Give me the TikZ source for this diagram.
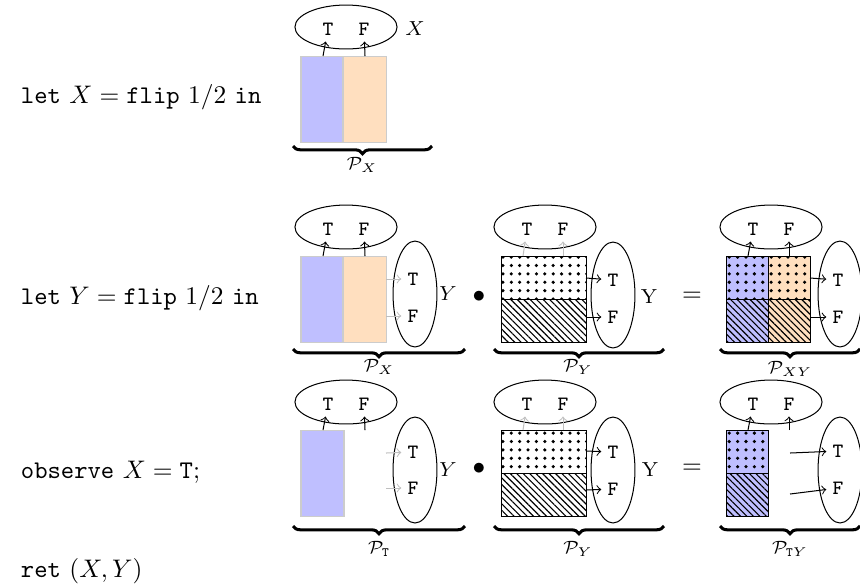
\documentclass[tikz,border=0pt]{standalone}
\usetikzlibrary{shapes.geometric, patterns.meta, decorations.pathreplacing}

\begin{document}
\begin{tikzpicture}[x=0.3937pt, y=-0.3937pt,
    val/.style={font=\ttfamily\footnotesize, inner sep=2.3pt},
    lab/.style={font=\footnotesize},
    plab/.style={font=\scriptsize},
    ovalh/.style={draw, ellipse, minimum width=40.2pt, minimum height=17.3pt, inner sep=0pt},
    ovalv/.style={draw, ellipse, minimum width=17.3pt, minimum height=41.7pt, inner sep=0pt},
    blueblk/.style={fill=blue!25, draw=black!20},
    orangeblk/.style={fill=orange!25, draw=black!20},
    dotfill/.style={pattern={Dots[distance=3.3pt, radius=0.7pt]}},
    hatchfill/.style={pattern={Lines[angle=-45, distance=1.8pt, line width=0.45pt]}},
    faint/.style={->, black!25},
    brc/.style={decorate, decoration={brace, mirror, amplitude=3pt}, very thick}]
    \useasboundingbox (0,0) rectangle (860,584);

    % Program lines
    \node[anchor=base west] (l1) at (12,103) {\texttt{let} $X = \mathtt{flip}\ 1/2$ \texttt{in}};
    \node[anchor=base west] (l2) at (12,304) {\texttt{let} $Y = \mathtt{flip}\ 1/2$ \texttt{in}};
    \node[anchor=base west] (l3) at (12,478) {\texttt{observe} $X = \mathtt{T}$;};
    \node[anchor=base west] (l4) at (12,577) {\texttt{ret} $(X,Y)$};

    % Row 1: X
    \filldraw[blueblk] (301,56) rectangle (343,142);
    \filldraw[orangeblk] (343,56) rectangle (386,142);
    \node[ovalh] (ex1) at (346,27) {};
    \node[val] (xt1) at (328,29) {T};
    \node[val] (xf1) at (364,29) {F};
    \node[lab] (nx1) at (415,29) {$X$};
    \coordinate (pt1) at (323,56);
    \coordinate (pf1) at (365,56);
    \draw[->] (pt1) -- (xt1);
    \draw[->] (pf1) -- (xf1);
    \coordinate (bl1) at (293,146);
    \coordinate (br1) at (432,146);
    \draw[brc] (bl1) -- (br1);
    \node[plab] (p1) at (362,165) {$\mathcal{P}_X$};

    % Row 2, left: P_X with Y
    \filldraw[blueblk] (301,256) rectangle (343,342);
    \filldraw[orangeblk] (343,256) rectangle (386,342);
    \node[ovalh] (ex2) at (346,227) {};
    \node[val] (xt2) at (328,229) {T};
    \node[val] (xf2) at (364,229) {F};
    \coordinate (pt2) at (323,256);
    \coordinate (pf2) at (365,256);
    \draw[->] (pt2) -- (xt2);
    \draw[->] (pf2) -- (xf2);
    \node[ovalv] (ey2) at (415,294) {};
    \node[val] (yt2) at (413,279) {T};
    \node[val] (yf2) at (413,316) {F};
    \node[lab] (ny2) at (448,294) {$Y$};
    \coordinate (qt2) at (386,279);
    \coordinate (qf2) at (386,316);
    \draw[faint] (qt2) -- (yt2);
    \draw[faint] (qf2) -- (yf2);
    \coordinate (bl2) at (293,349);
    \coordinate (br2) at (465,349);
    \draw[brc] (bl2) -- (br2);
    \node[plab] (p2) at (379,367) {$\mathcal{P}_X$};
    \node (m2) at (479,297) {$\bullet$};

    % Row 2, middle: P_Y
    \path[dotfill] (501,256) rectangle (586,299);
    \path[hatchfill] (501,299) rectangle (586,342);
    \draw (501,256) rectangle (586,342);
    \draw (501,299) -- (586,299);
    \node[ovalh] (ex3) at (545,227) {};
    \node[val] (xt3) at (527,229) {T};
    \node[val] (xf3) at (563,229) {F};
    \coordinate (pt3) at (523,256);
    \coordinate (pf3) at (563,256);
    \draw[faint] (pt3) -- (xt3);
    \draw[faint] (pf3) -- (xf3);
    \node[ovalv] (ey3) at (613,295) {};
    \node[val] (yt3) at (613,280) {T};
    \node[val] (yf3) at (613,317) {F};
    \node[lab] (ny3) at (649,297) {Y};
    \coordinate (qt3) at (586,278);
    \coordinate (qf3) at (586,317);
    \draw[->] (qt3) -- (yt3);
    \draw[->] (qf3) -- (yf3);
    \coordinate (bl3) at (494,349);
    \coordinate (br3) at (664,349);
    \draw[brc] (bl3) -- (br3);
    \node[plab] (p3) at (578,367) {$\mathcal{P}_Y$};
    \node (q2) at (692,297) {$=$};

    % Row 2, right: P_XY
    \fill[blue!25] (726,256) rectangle (768,342);
    \fill[orange!25] (768,256) rectangle (810,342);
    \path[dotfill] (726,256) rectangle (810,299);
    \path[hatchfill] (726,299) rectangle (810,342);
    \draw (726,256) rectangle (810,342);
    \draw (726,299) -- (810,299);
    \draw (768,256) -- (768,342);
    \node[ovalh] (ex4) at (771,227) {};
    \node[val] (xt4) at (753,229) {T};
    \node[val] (xf4) at (789,229) {F};
    \coordinate (pt4) at (748,256);
    \coordinate (pf4) at (789,256);
    \draw[->] (pt4) -- (xt4);
    \draw[->] (pf4) -- (xf4);
    \node[ovalv] (ey4) at (840,294) {};
    \node[val] (yt4) at (838,280) {T};
    \node[val] (yf4) at (838,317) {F};
    \coordinate (qt4) at (810,278);
    \coordinate (qf4) at (810,317);
    \draw[->] (qt4) -- (yt4);
    \draw[->] (qf4) -- (yf4);
    \coordinate (bl4) at (720,349);
    \coordinate (br4) at (860,349);
    \draw[brc] (bl4) -- (br4);
    \node[plab] (p4) at (790,369) {$\mathcal{P}_{XY}$};

    % Row 3, left: P_T with Y
    \filldraw[blueblk] (301,430) rectangle (344,516);
    \node[ovalh] (ex5) at (346,402) {};
    \node[val] (xt5) at (328,404) {T};
    \node[val] (xf5) at (364,404) {F};
    \coordinate (pt5) at (323,430);
    \coordinate (pf5) at (365,430);
    \draw[->] (pt5) -- (xt5);
    \draw[->] (pf5) -- (xf5);
    \node[ovalv] (ey5) at (415,470) {};
    \node[val] (yt5) at (413,452) {T};
    \node[val] (yf5) at (413,488) {F};
    \node[lab] (ny5) at (448,470) {$Y$};
    \coordinate (qt5) at (386,453);
    \coordinate (qf5) at (386,488);
    \draw[faint] (qt5) -- (yt5);
    \draw[faint] (qf5) -- (yf5);
    \coordinate (bl5) at (293,526);
    \coordinate (br5) at (465,526);
    \draw[brc] (bl5) -- (br5);
    \node[plab] (p5) at (379,549) {$\mathcal{P}_{\mathtt{T}}$};
    \node (m5) at (479,469) {$\bullet$};

    % Row 3, middle: P_Y
    \path[dotfill] (501,430) rectangle (586,473);
    \path[hatchfill] (501,473) rectangle (586,516);
    \draw (501,430) rectangle (586,516);
    \draw (501,473) -- (586,473);
    \node[ovalh] (ex6) at (545,402) {};
    \node[val] (xt6) at (527,404) {T};
    \node[val] (xf6) at (563,404) {F};
    \coordinate (pt6) at (523,430);
    \coordinate (pf6) at (563,430);
    \draw[faint] (pt6) -- (xt6);
    \draw[faint] (pf6) -- (xf6);
    \node[ovalv] (ey6) at (613,470) {};
    \node[val] (yt6) at (613,452) {T};
    \node[val] (yf6) at (613,489) {F};
    \node[lab] (ny6) at (650,470) {Y};
    \coordinate (qt6) at (586,451);
    \coordinate (qf6) at (586,490);
    \draw[->] (qt6) -- (yt6);
    \draw[->] (qf6) -- (yf6);
    \coordinate (bl6) at (494,526);
    \coordinate (br6) at (664,526);
    \draw[brc] (bl6) -- (br6);
    \node[plab] (p6) at (578,549) {$\mathcal{P}_Y$};
    \node (q5) at (692,469) {$=$};

    % Row 3, right: P_TY
    \fill[blue!25] (726,430) rectangle (768,516);
    \path[dotfill] (726,430) rectangle (768,473);
    \path[hatchfill] (726,473) rectangle (768,516);
    \draw (726,430) rectangle (768,516);
    \draw (726,473) -- (768,473);
    \node[ovalh] (ex7) at (771,402) {};
    \node[val] (xt7) at (753,404) {T};
    \node[val] (xf7) at (789,404) {F};
    \coordinate (pt7) at (748,430);
    \coordinate (pf7) at (789,430);
    \draw[->] (pt7) -- (xt7);
    \draw[->] (pf7) -- (xf7);
    \node[ovalv] (ey7) at (840,470) {};
    \node[val] (yt7) at (838,451) {T};
    \node[val] (yf7) at (838,488) {F};
    \coordinate (qt7) at (790,453);
    \coordinate (qf7) at (790,494);
    \draw[->] (qt7) -- (yt7);
    \draw[->] (qf7) -- (yf7);
    \coordinate (bl7) at (720,526);
    \coordinate (br7) at (860,526);
    \draw[brc] (bl7) -- (br7);
    \node[plab] (p7) at (790,549) {$\mathcal{P}_{\mathtt{T}Y}$};
\end{tikzpicture}
\end{document}
